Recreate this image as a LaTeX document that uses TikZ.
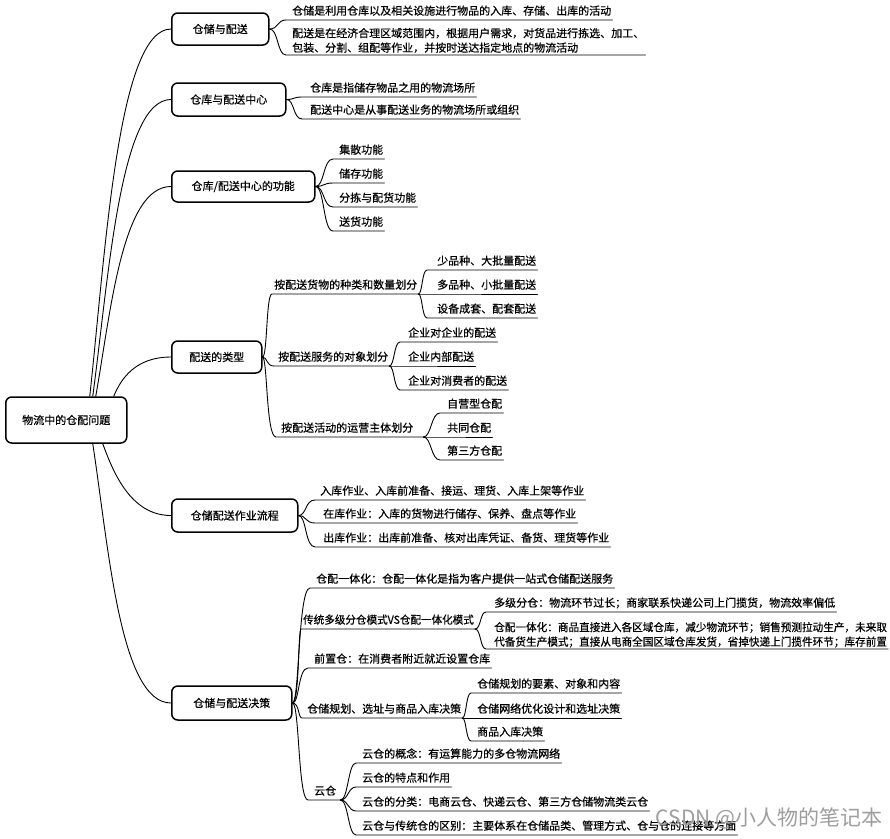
\documentclass[tikz,border=0pt]{standalone}
\usepackage{fontspec}
\setmainfont{Noto Sans CJK SC}[FakeBold=0.5]
\newfontfamily\wmfont{Noto Sans CJK SC}
\usepackage{graphicx}
\newcommand{\fs}{\fontsize{11pt}{14.5pt}\selectfont}
\newcommand{\lastdp}{\rule[-3pt]{0pt}{3pt}}
\begin{document}
\begin{tikzpicture}[x=1pt,y=-1pt,
  topic/.style={draw, line width=1.5pt, rounded corners=6pt, anchor=west, inner sep=0pt,
                minimum height=32pt, font=\fs},
  leaf/.style={anchor=south west, inner sep=0pt, text depth=5pt, font=\fs},
  leafm/.style={anchor=south west, inner sep=0pt, align=left, font=\fs},
  conn/.style={line width=0.9pt, line cap=round, line join=round}]
\useasboundingbox (0,0) rectangle (890,838);
\fill[white] (0,0) rectangle (890,838);

% topics
\node[topic, minimum width=121pt, minimum height=46pt] (root) at (5,420) {物流中的仓配问题};
\node[topic, minimum width=97pt] (b1) at (171,29) {仓储与配送};
\node[topic, minimum width=114pt, minimum height=33pt] (b2) at (171,99.5) {仓库与配送中心};
\node[topic, minimum width=143pt, minimum height=31pt] (b3) at (171,186.5) {仓库/配送中心的功能};
\node[topic, minimum width=90pt] (b4) at (171,357) {配送的类型};
\node[topic, minimum width=126pt, minimum height=33pt] (b5) at (171,515.5) {仓储配送作业流程};
\node[topic, minimum width=120pt, minimum height=34pt] (b6) at (171,703) {仓储与配送决策};

% main branches
\draw[conn] ([xshift=23.5pt]root.north) .. controls +(16,-147) and +(-53,0) .. (b1.west);
\draw[conn] ([xshift=26.5pt]root.north) .. controls +(16,-119) and +(-51,0) .. (b2.west);
\draw[conn] ([xshift=29.5pt]root.north) .. controls +(15,-84) and +(-49,0) .. (b3.west);
\draw[conn] ([xshift=47.5pt]root.north) .. controls +(7,-17) and +(-36,0) .. (b4.west);
\draw[conn] ([xshift=36.5pt]root.south) .. controls +(10,27) and +(-41,0) .. (b5.west);
\draw[conn] ([xshift=26.5pt]root.south) .. controls +(16,104) and +(-51,0) .. (b6.west);

% b1
\node[leaf] (l11) at (292,20) {仓储是利用仓库以及相关设施进行物品的入库、存储、出库的活动};
\node[leafm] (l12) at (292,55) {配送是在经济合理区域范围内，根据用户需求，对货品进行拣选、加工、\\包装、分割、组配等作业，并按时送达指定地点的物流活动\lastdp};
\foreach \n in {l11,l12}
  \draw[conn] (b1.east) .. controls +(9,0) and +(-9,0) .. ([xshift=-6pt]\n.south west) -- ([xshift=1pt]\n.south east);

% b2
\node[leaf] (l21) at (310,97) {仓库是指储存物品之用的物流场所};
\node[leaf] (l22) at (310,119) {配送中心是从事配送业务的物流场所或组织};
\foreach \n in {l21,l22}
  \draw[conn] (b2.east) .. controls +(8,0) and +(-9,0) .. ([xshift=-8pt]\n.south west) -- ([xshift=1pt]\n.south east);

% b3
\node[leaf] (l31) at (339,159) {集散功能};
\node[leaf] (l32) at (339,183) {储存功能};
\node[leaf] (l33) at (339,207) {分拣与配货功能};
\node[leaf] (l34) at (339,231) {送货功能};
\foreach \n in {l31,l32,l33,l34}
  \draw[conn] (b3.east) .. controls +(9,0) and +(-10,0) .. ([xshift=-6pt]\n.south west) -- ([xshift=1pt]\n.south east);

% b4
\node[leaf] (g1) at (274,294) {按配送货物的种类和数量划分};
\node[leaf] (g2) at (278,366) {按配送服务的对象划分};
\node[leaf] (g3) at (281,437) {按配送活动的运营主体划分};
\draw[conn] (b4.east) .. controls +(5,0) and +(-6,0) .. ([xshift=-2pt]g1.south west) -- ([xshift=1pt]g1.south east);
\draw[conn] (b4.east) .. controls +(5,0) and +(-8,0) .. ([xshift=-4pt]g2.south west) -- ([xshift=1pt]g2.south east);
\draw[conn] (b4.east) .. controls +(5,0) and +(-10,0) .. ([xshift=-5pt]g3.south west) -- ([xshift=10pt]g3.south east);

\node[leaf] (g11) at (437,270) {少品种、大批量配送};
\node[leaf] (g12) at (437,294) {多品种、小批量配送};
\node[leaf] (g13) at (437,318) {设备成套、配套配送};
\foreach \n in {g11,g12,g13}
  \draw[conn] ([xshift=1pt]g1.south east) .. controls +(4,0) and +(-5,0) .. ([xshift=-10pt]\n.south west) -- ([xshift=1pt]\n.south east);

\node[leaf] (g21) at (408,342) {企业对企业的配送};
\node[leaf] (g22) at (408,366) {企业内部配送};
\node[leaf] (g23) at (408,390) {企业对消费者的配送};
\foreach \n in {g21,g22,g23}
  \draw[conn] ([xshift=1pt]g2.south east) .. controls +(5,0) and +(-6,0) .. ([xshift=-8pt]\n.south west) -- ([xshift=1pt]\n.south east);

\node[leaf] (g31) at (447,413) {自营型仓配};
\node[leaf] (g32) at (447,437) {共同仓配};
\node[leaf] (g33) at (447,460) {第三方仓配};
\foreach \n in {g31,g32,g33}
  \draw[conn] ([xshift=10pt]g3.south east) .. controls +(8,0) and +(-9,0) .. ([xshift=-7pt]\n.south west) -- ([xshift=1pt]\n.south east);

% b5
\node[leaf] (l51) at (320,500) {入库作业、入库前准备、接运、理货、入库上架等作业};
\node[leaf] (l52) at (323,523) {在库作业：入库的货物进行储存、保养、盘点等作业};
\node[leaf] (l53) at (323,547) {出库作业：出库前准备、核对出库凭证、备货、理货等作业};
\draw[conn] (b5.east) .. controls +(8,0) and +(-10,0) .. ([xshift=-5pt]l51.south west) -- ([xshift=1pt]l51.south east);
\draw[conn] (b5.east) .. controls +(8,0) and +(-10,0) .. ([xshift=-8pt]l52.south west) -- ([xshift=1pt]l52.south east);
\draw[conn] (b5.east) .. controls +(8,0) and +(-10,0) .. ([xshift=-8pt]l53.south west) -- ([xshift=1pt]l53.south east);

% b6
\node[leaf] (d1) at (316,588) {仓配一体化：仓配一体化是指为客户提供一站式仓储配送服务};
\node[leaf] (d2) at (303,629) {\scalebox{0.96}[1]{传统多级分仓模式VS仓配一体化模式}};
\node[leaf] (d3) at (314,668) {前置仓：在消费者附近就近设置仓库};
\node[leaf] (d4) at (307,718) {仓储规划、选址与商品入库决策};
\node[leaf] (d5) at (314,800) {云仓};
\draw[conn] (b6.east) .. controls +(7,0) and +(-12,0) .. ([xshift=-6pt]d1.south west) -- ([xshift=1pt]d1.south east);
\draw[conn] (b6.east) .. controls +(7,0) and +(-3,0) .. ([xshift=-2pt]d2.south west) -- ([xshift=1pt]d2.south east);
\draw[conn] (b6.east) .. controls +(7,0) and +(-10,0) .. ([xshift=-6pt]d3.south west) -- ([xshift=1pt]d3.south east);
\draw[conn] (b6.east) .. controls +(7,0) and +(-4,0) .. ([xshift=-5pt]d4.south west) -- ([xshift=1pt]d4.south east);
\draw[conn] (b6.east) .. controls +(7,0) and +(-10,0) .. ([xshift=-6pt]d5.south west) -- ([xshift=4pt]d5.south east);

\node[leaf] (d21) at (494,612) {多级分仓：物流环节过长；商家联系快递公司上门揽货，物流效率偏低};
\node[leafm] (d22) at (494,649) {\scalebox{0.965}[1]{仓配一体化：商品直接进入各区域仓库，减少物流环节；销售预测拉动生产，未来取}\\\scalebox{0.965}[1]{代备货生产模式；直接从电商全国区域仓库发货，省掉快递上门揽件环节；库存前置}\lastdp};
\foreach \n in {d21,d22}
  \draw[conn] ([xshift=1pt]d2.south east) .. controls +(6,0) and +(-6,0) .. ([xshift=-8pt]\n.south west) -- ([xshift=1pt]\n.south east);

\node[leaf] (d41) at (477,693) {仓储规划的要素、对象和内容};
\node[leaf] (d42) at (477,718) {仓储网络优化设计和选址决策};
\node[leaf] (d43) at (477,741) {商品入库决策};
\foreach \n in {d41,d42,d43}
  \draw[conn] ([xshift=1pt]d4.south east) .. controls +(4,0) and +(-5,0) .. ([xshift=-6pt]\n.south west) -- ([xshift=1pt]\n.south east);

\node[leaf] (d51) at (362,763) {云仓的概念：有运算能力的多仓物流网络};
\node[leaf] (d52) at (362,787) {云仓的特点和作用};
\node[leaf] (d53) at (362,811) {云仓的分类：电商云仓、快递云仓、第三方仓储物流类云仓};
\node[leaf] (d54) at (362,835) {云仓与传统仓的区别：主要体系在仓储品类、管理方式、仓与仓的连接等方面};
\foreach \n in {d51,d52,d53,d54}
  \draw[conn] ([xshift=4pt]d5.south east) .. controls +(8,0) and +(-8,0) .. ([xshift=-6pt]\n.south west) -- ([xshift=1pt]\n.south east);

% watermark
\node[font=\wmfont\fontsize{21pt}{21pt}\selectfont, text=black!38, inner sep=0pt] (wm) at (769,818) {CSDN @小人物的笔记本};
\end{tikzpicture}
\end{document}
